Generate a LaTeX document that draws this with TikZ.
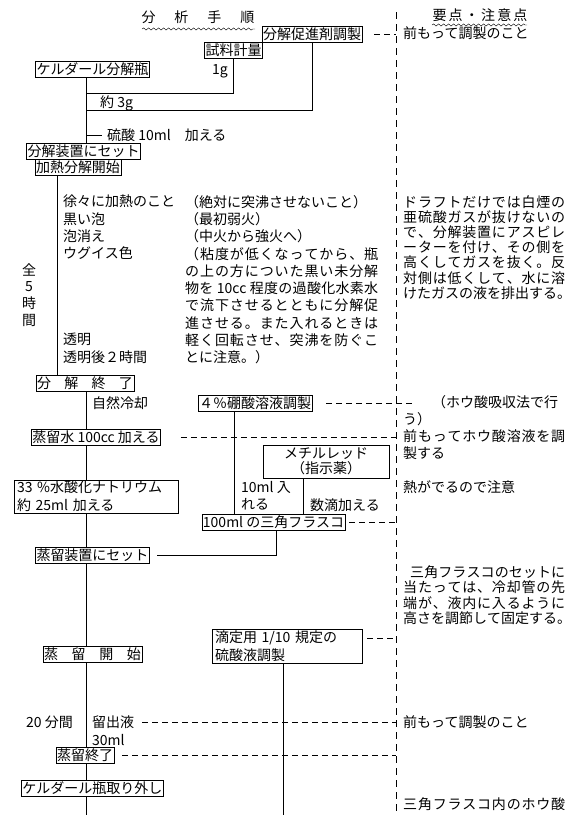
\documentclass[tikz,border=0pt]{standalone}
\usepackage{fontspec}
\setmainfont{Noto Sans CJK JP}
\usepackage{tikz}
\usetikzlibrary{decorations.pathmorphing}
% spread the characters of a line over a given width
\ExplSyntaxOn
\NewDocumentCommand \spreadtext { m m }
  { \makebox[#1][s]{ \tl_map_inline:nn {#2} { ##1 \hfil } \unskip } }
\ExplSyntaxOff

\begin{document}
\begin{tikzpicture}[x=1pt,y=-1pt,
    font=\fontsize{14}{17.3}\selectfont,
    stepbox/.style={draw, inner xsep=1pt, inner ysep=1pt, text height=12pt, text depth=2pt},
    twobox/.style={draw, inner xsep=3pt, inner ysep=1pt, align=left},
    note/.style={inner sep=0pt, anchor=north west, align=left},
    txt/.style={inner sep=0pt},
    link/.style={dash pattern=on 6pt off 4pt},
    wavy/.style={decorate, decoration={snake, amplitude=1.1pt, segment length=5pt}}]
  \useasboundingbox (0,0) rectangle (581,815);

  % headings
  \node (title) at (198,17) {\spreadtext{113pt}{分析手順}};
  \draw[wavy] (142,29) -- (255,29);
  \node (points) at (480,15) {\spreadtext{95pt}{要点・注意点}};
  \draw[wavy] (432,25) -- (527,25);
  \coordinate (dx) at (396,0);
  \coordinate (foot) at (86,815);
  \draw[dash pattern=on 7pt off 5pt] (396,12) -- (dx |- foot);

  % decomposition
  \node[stepbox] (prep) at (312,34.5) {分解促進剤調製};
  \node[stepbox] (weigh) at (233.5,50) {試料計量};
  \node[stepbox] (flask) at (92.5,69) {ケルダール分解瓶};
  \node[txt, anchor=west] (onegram) at (212,71) {1g};
  \coordinate (mx) at (86,0);
  \coordinate (hx) at (57,0);
  \coordinate (j1) at (86,93);
  \coordinate (j2) at (86,110);
  \coordinate (j3) at (86,135);
  \draw (weigh.south) |- (j1);
  \draw (prep.south) |- (j2);
  \node[txt, anchor=west] (threeg) at (100,103) {約 3g};
  \draw (j3) -- ++(16,0) node[anchor=west, inner sep=0pt, xshift=5pt] (acid) {硫酸 10ml　加える};
  \node[stepbox] (setup) at (83.5,151.5) {分解装置にセット};
  \node[stepbox] (heat) at (78,167.5) {加熱分解開始};
  \draw (mx |- flask.south) -- (mx |- setup.north);

  \node[note] (steps) at (63,195) {徐々に加熱のこと\\黒い泡\\泡消え\\ウグイス色};
  \node[note] (clear) at (63,333) {透明\\透明後２時間};
  \node[note] (cautions) at (185,195) {（絶対に突沸させないこと）\\（最初弱火）\\（中火から強火へ）\\%
    \spreadtext{193pt}{（粘度が低くなってから、瓶}\\\spreadtext{193pt}{の上の方についた黒い未分解}\\%
    \spreadtext{193pt}{物を{ 10cc }程度の過酸化水素水}\\\spreadtext{193pt}{で流下させるとともに分解促}\\%
    \spreadtext{193pt}{進させる。また入れるときは}\\\spreadtext{193pt}{軽く回転させ、突沸を防ぐこ}\\とに注意。）};
  \node[txt, align=center, font=\fontsize{14}{16.7}\selectfont] (total) at (29,295) {全\\5\\時\\間};

  % distillation
  \node[stepbox] (stop) at (85,383.5) {\spreadtext{96pt}{分解終了}};
  \draw (hx |- heat.south) -- (hx |- stop.north);
  \node[txt, anchor=west] (cool) at (92,403) {自然冷却};
  \node[stepbox] (water) at (96,437.5) {蒸留水 100cc 加える};
  \node[stepbox] (boric) at (255,403) {４％硼酸溶液調製};
  \node[twobox, minimum height=31pt, text width=158pt, font=\fontsize{14}{18}\selectfont] (naoh) at (96,496.5) {33~\%水酸化ナトリウム\\約 25ml 加える};
  \node[draw, align=center, minimum width=126pt, minimum height=33pt, inner sep=1pt, font=\fontsize{14}{15}\selectfont] (red) at (326,461.5) {メチルレッド\\（指示薬）};
  \node[stepbox] (conical) at (273.5,522.5) {100ml の三角フラスコ};
  \node[note, font=\fontsize{14}{17}\selectfont] (pour) at (241,481) {10ml 入\\れる};
  \node[txt, anchor=west] (drops) at (310,505) {数滴加える};
  \node[stepbox] (distset) at (92.5,555) {蒸留装置にセット};
  \node[twobox, minimum height=34pt, text width=144pt, font=\fontsize{14}{18}\selectfont] (titr) at (287,646) {滴定用 1/10 規定の\\硫酸液調製};
  \node[stepbox] (diststart) at (92.5,654.5) {\spreadtext{97pt}{蒸留開始}};
  \node[txt, anchor=east] (twenty) at (73,722) {20 分間};
  \node[txt, anchor=west] (distil) at (92,722) {留出液};
  \node[txt, anchor=west] (vol) at (92,740) {30ml};
  \node[stepbox] (distend) at (85,755.5) {蒸留終了};
  \node[stepbox] (remove) at (92.5,788.5) {ケルダール瓶取り外し};

  \draw (mx |- stop.south) -- (mx |- water.north);
  \draw (mx |- water.south) -- (mx |- naoh.north);
  \draw (mx |- naoh.south) -- (mx |- distset.north);
  \draw (mx |- distset.south) -- (mx |- diststart.north);
  \draw (mx |- diststart.south) -- (mx |- distend.north);
  \draw (mx |- distend.south) -- (mx |- remove.north);
  \draw (mx |- remove.south) -- (foot);
  \coordinate (bx) at (234,0);
  \coordinate (rx) at (303,0);
  \coordinate (cx) at (276,0);
  \coordinate (tx) at (283,0);
  \draw (bx |- boric.south) -- (bx |- conical.north);
  \draw (rx |- red.south) -- (rx |- conical.north);
  \draw (cx |- conical.south) |- ([xshift=7pt]distset.east);
  \draw (tx |- titr.south) -- (tx |- foot);

  % links to the notes column
  \coordinate (over) at (415,0);
  \coordinate (tlink) at ([xshift=5pt, yshift=8pt]titr.east);
  \draw[link] ([xshift=12pt]prep.east) -- (dx |- prep.east);
  \draw[link] ([xshift=14pt]boric.east) -- (over |- boric.east);
  \draw[link] ([xshift=20pt]water.east) -- (dx |- water.east);
  \draw[link] ([xshift=4pt]conical.east) -- (dx |- conical.east);
  \draw[link] (tlink) -- (dx |- tlink);
  \draw[link] ([xshift=8pt]distil.east) -- (dx |- distil.east);
  \draw[link] ([xshift=8pt]distend.east) -- (dx |- distend.east);

  % notes
  \node[txt, anchor=west] (n1) at (403,33) {前もって調製のこと};
  \node[note, font=\fontsize{14}{15.2}\selectfont] (n2) at (403,195) {\spreadtext{162pt}{ドラフトだけでは白煙の}\\%
    \spreadtext{162pt}{亜硫酸ガスが抜けないの}\\\spreadtext{162pt}{で、分解装置にアスピレ}\\%
    \spreadtext{162pt}{ーターを付け、その側を}\\\spreadtext{162pt}{高くしてガスを抜く。反}\\%
    \spreadtext{162pt}{対側は低くして、水に溶}\\\spreadtext{162pt}{けたガスの液を排出する。}};
  \node[txt, anchor=west] (n3) at (432,402) {（ホウ酸吸収法で行};
  \node[txt, anchor=west] (n3b) at (403,419) {う）};
  \node[note, font=\fontsize{14}{17}\selectfont] (n4) at (403,429) {\spreadtext{162pt}{前もってホウ酸溶液を調}\\製する};
  \node[txt, anchor=west] (n5) at (403,487) {熱がでるので注意};
  \node[note, font=\fontsize{14}{15.6}\selectfont] (n6) at (403,565) {\hspace*{7pt}\spreadtext{155pt}{三角フラスコのセットに}\\%
    \spreadtext{162pt}{当たっては、冷却管の先}\\\spreadtext{162pt}{端が、液内に入るように}\\%
    \spreadtext{162pt}{高さを調節して固定する。}};
  \node[txt, anchor=west] (n7) at (403,722) {前もって調製のこと};
  \node[txt, anchor=west] (n8) at (403,804) {\spreadtext{162pt}{三角フラスコ内のホウ酸}};
\end{tikzpicture}
\end{document}
